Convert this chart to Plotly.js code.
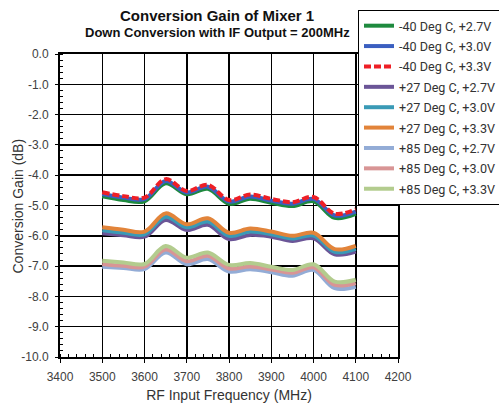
<!DOCTYPE html>
<html>
<head>
<meta charset="utf-8">
<script src="https://cdn.plot.ly/plotly-3.0.1.min.js"></script>
<style>html,body{margin:0;padding:0;background:#fff;}#chart{width:499px;height:410px;}</style>
</head>
<body>
<div id="chart"></div>
<script>
const freq = [3500,3550,3600,3650,3700,3750,3800,3850,3900,3950,4000,4050,4100];

const m40_27 = [-4.70,-4.82,-4.86,-4.27,-4.63,-4.45,-4.94,-4.78,-4.91,-5.02,-4.86,-5.41,-5.28];
const m40_30 = [-4.62,-4.74,-4.79,-4.19,-4.57,-4.38,-4.87,-4.70,-4.84,-4.94,-4.78,-5.33,-5.20];
const m40_33 = [-4.56,-4.69,-4.74,-4.13,-4.52,-4.32,-4.82,-4.64,-4.78,-4.89,-4.72,-5.27,-5.13];

const p27_27 = [-5.92,-5.98,-6.03,-5.48,-5.81,-5.64,-6.11,-5.97,-6.03,-6.17,-6.08,-6.61,-6.52];
const p27_30 = [-5.82,-5.90,-5.95,-5.37,-5.72,-5.53,-6.00,-5.86,-5.95,-6.09,-5.99,-6.53,-6.43];
const p27_33 = [-5.72,-5.80,-5.86,-5.26,-5.62,-5.42,-5.90,-5.76,-5.86,-6.00,-5.90,-6.44,-6.33];

const p85_27 = [-7.02,-7.06,-7.10,-6.55,-6.94,-6.77,-7.18,-7.10,-7.20,-7.32,-7.13,-7.73,-7.68];
const p85_30 = [-6.93,-6.99,-7.02,-6.45,-6.84,-6.66,-7.08,-7.01,-7.11,-7.22,-7.04,-7.62,-7.56];
const p85_33 = [-6.82,-6.88,-6.93,-6.34,-6.72,-6.55,-6.96,-6.90,-7.02,-7.13,-6.94,-7.51,-7.45];

const seriesNames = ["-40 Deg C, +2.7V","-40 Deg C, +3.0V","-40 Deg C, +3.3V",
                     "+27 Deg C, +2.7V","+27 Deg C, +3.0V","+27 Deg C, +3.3V",
                     "+85 Deg C, +2.7V","+85 Deg C, +3.0V","+85 Deg C, +3.3V"];
const seriesData = [m40_27,m40_30,m40_33,p27_27,p27_30,p27_33,p85_27,p85_30,p85_33];
const colors = ["#1e8a3e","#3b5fc0","#ee1f26","#6b5597","#3a9ab6","#e2843a","#93acd6","#d89595","#b3cc8e"];

const yTickVals = [0,-1,-2,-3,-4,-5,-6,-7,-8,-9,-10];
const yTickText = ["0.0","-1.0","-2.0","-3.0","-4.0","-5.0","-6.0","-7.0","-8.0","-9.0","-10.0"];

const traces = seriesData.map((ys,i)=>({
  x: freq, y: ys, name: seriesNames[i], type:'scatter', mode:'lines', legendgroup:'g'+i,
  line:{color:colors[i], width: 4, shape:'spline', smoothing:1, dash: i===2 ? '7px,3px' : 'solid'}
}));

const font = "'Liberation Sans', Arial, sans-serif";
const layout = {
  width:499, height:410,
  margin:{l:60, r:101, t:54, b:53, autoexpand:false},
  paper_bgcolor:'#fff', plot_bgcolor:'#fff',
  font:{family:font, color:'#404040', size:12},
  showlegend:true,
  legend:{x:(358-60)/338, xanchor:'left', y:(357-10)/303, yanchor:'top', bgcolor:'#fff',
          bordercolor:'#000', borderwidth:1, itemwidth:30, tracegroupgap:1,
          font:{family:"Roboto, 'Liberation Sans', sans-serif", size:12.6, color:'#333'}},
  xaxis:{range:[3400,4200], dtick:100, tick0:3400, showline:true, linecolor:'#000', linewidth:2,
         mirror:true, showgrid:true, gridcolor:'#000', gridwidth:1.5, zeroline:false,
         ticks:'outside', ticklen:4, tickcolor:'#000', ticklabelstandoff:4, tickfont:{size:12, color:'#404040'},
         minor:{dtick:20, ticks:'inside', ticklen:3, tickcolor:'#000', showgrid:false},
         title:{text:'RF Input Frequency (MHz)', font:{size:14, color:'#333'}, standoff:7}},
  yaxis:{range:[-10,0], tickmode:'array', tickvals:yTickVals, ticktext:yTickText,
         showline:true, linecolor:'#000', linewidth:2, mirror:true,
         showgrid:true, gridcolor:'#000', gridwidth:1.5, zeroline:false,
         ticks:'outside', ticklen:3, tickcolor:'#000', ticklabelstandoff:4, tickfont:{size:12, color:'#404040'},
         minor:{tickmode:'linear', tick0:0, dtick:0.2, ticks:'inside', ticklen:3, tickcolor:'#000', showgrid:false}},
  annotations:[
    {text:'<b>Conversion Gain of Mixer 1</b>', xref:'paper', yref:'paper', x:(217-60)/338, y:(357-15)/303,
     xanchor:'center', yanchor:'middle', showarrow:false, font:{size:15, color:'#111'}},
    {text:'<b>Down Conversion with IF Output = 200MHz</b>', xref:'paper', yref:'paper', x:(217-60)/338, y:(357-33)/303,
     xanchor:'center', yanchor:'middle', showarrow:false, font:{size:13, color:'#111'}},
    {text:'Conversion Gain (dB)', xref:'paper', yref:'paper', x:(17-60)/338, y:0.5, textangle:-90,
     xanchor:'center', yanchor:'middle', showarrow:false, font:{size:14, color:'#333'}}
  ]
};
Plotly.newPlot('chart', traces, layout, {displayModeBar:false, staticPlot:true});
</script>
</body>
</html>
